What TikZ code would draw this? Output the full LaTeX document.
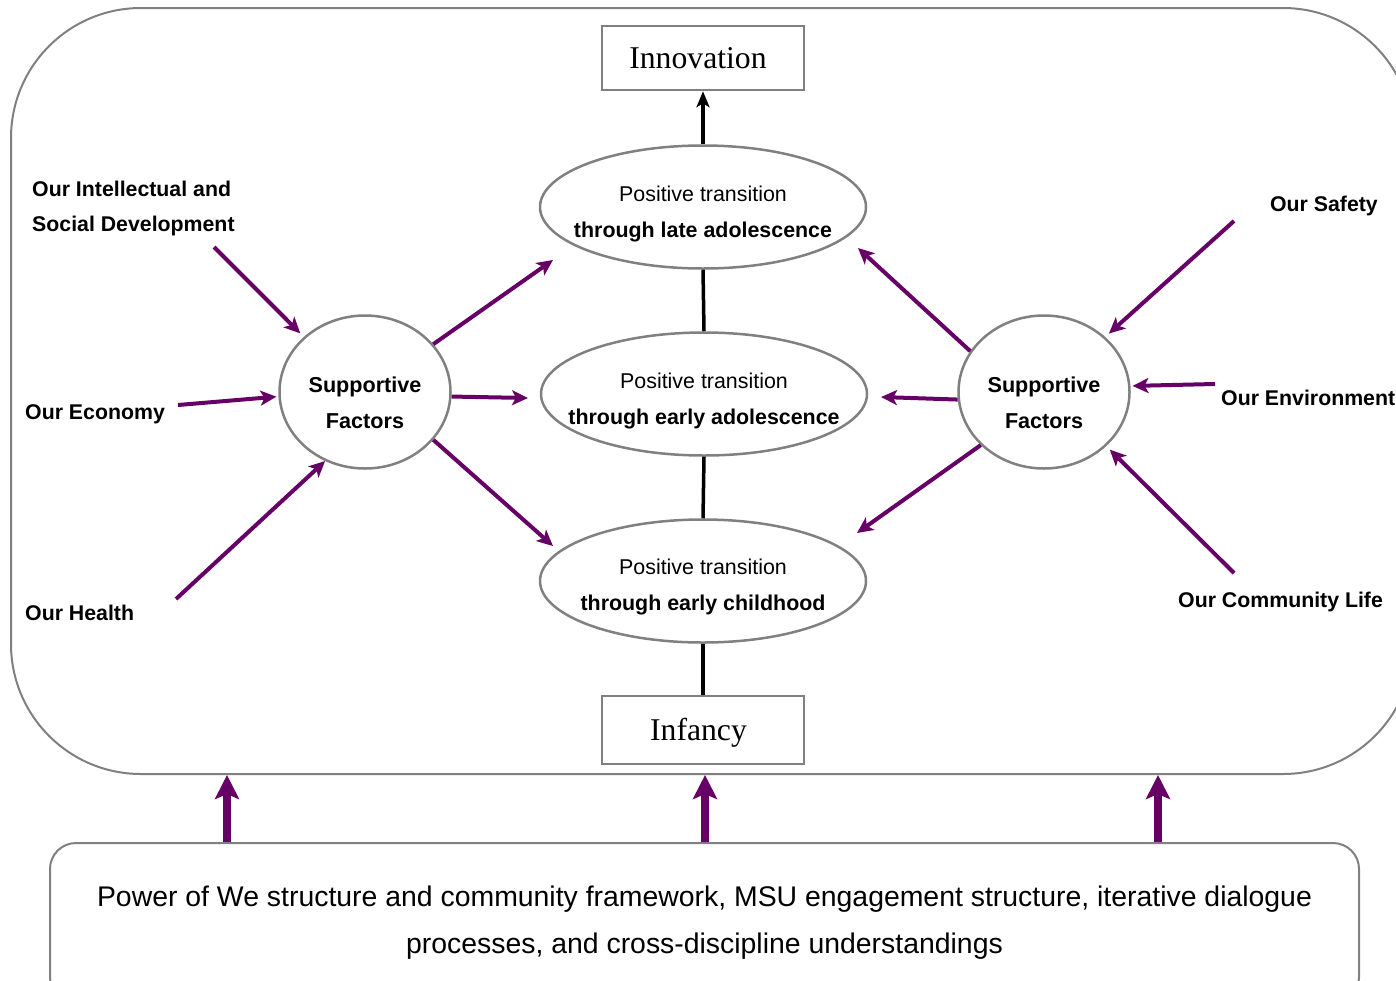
\documentclass[tikz,border=0pt]{standalone}
\usepackage{fontspec}
\setmainfont{Liberation Serif}
\setsansfont{Liberation Sans}
\usetikzlibrary{arrows.meta,shapes.geometric}
\definecolor{plum}{RGB}{102,0,102}
\definecolor{frame}{RGB}{128,128,128}
\begin{document}
\begin{tikzpicture}[x=1pt,y=-1pt,
  outerframe/.style={draw=frame, line width=2pt, rounded corners=130pt,
    minimum width=1402pt, minimum height=766pt, inner sep=0pt},
  basebox/.style={draw=frame, line width=2pt, rounded corners=26pt,
    minimum width=1309pt, minimum height=160pt, inner sep=0pt, align=center,
    font=\sffamily\fontsize{28.4}{47}\selectfont},
  endbox/.style={draw=frame, line width=2.5pt, minimum width=202pt,
    inner sep=0pt, font=\fontsize{31.7}{36}\selectfont},
  stage/.style={ellipse, draw=frame, line width=2.5pt, minimum width=326pt,
    minimum height=123pt, inner sep=0pt},
  stagetext/.style={align=center, inner sep=0pt,
    font=\sffamily\fontsize{21.4}{36}\selectfont},
  factor/.style={ellipse, draw=frame, line width=2.5pt, minimum width=171pt,
    minimum height=153pt, inner sep=0pt},
  factortext/.style={align=center, inner sep=0pt,
    font=\sffamily\bfseries\fontsize{21.6}{36}\selectfont},
  arealabel/.style={inner sep=0pt, align=left,
    font=\sffamily\bfseries\fontsize{21.3}{35}\selectfont},
  stem/.style={line width=3.5pt, black},
  flow/.style={plum, line width=4pt,
    -{Stealth[length=16pt, width=15pt, inset=4pt]}},
  lift/.style={plum, line width=7.5pt,
    -{Stealth[length=24pt, width=24pt, inset=5pt]}}
]
\useasboundingbox (0,0) rectangle (1396,980);
\clip (0,0) rectangle (1396,980);

% frames
\node[outerframe] (outer) at (712,391) {};
\node[basebox] (base) at (704.5,923)
  {Power of We structure and community framework, MSU engagement structure, iterative dialogue\\
   processes, and cross-discipline understandings};

% developmental spine
\node[endbox, minimum height=64pt] (innov) at (703,58) {Innovation\hspace*{10pt}};
\node[endbox, minimum height=68pt] (inf) at (703,730)
  {\raisebox{-3pt}[\height][\depth]{Infancy}\hspace*{9pt}};

\node[stage] (late) at (703,207) {};
\node[stage] (early) at (704,394) {};
\node[stage] (child) at (703,581) {};
\node[stagetext] (latet) at (703,214) {Positive transition\\\textbf{through late adolescence}};
\node[stagetext] (earlyt) at (704,401) {Positive transition\\\textbf{through early adolescence}};
\node[stagetext] (childt) at (703,587) {Positive transition\\\textbf{through early childhood}};

\draw[stem, -{Stealth[length=16pt, width=13pt, inset=4pt]}] (late.north) -- (innov.south);
\draw[stem] (late.south) -- (early.north);
\draw[stem] (early.south) -- (child.north);
\draw[stem] (child.south) -- (inf.north);

% supportive factors
\node[factor] (lf) at (365,392) {};
\node[factortext] (lft) at (365,403) {Supportive\\Factors};
\node[factor] (rf) at (1044,392) {};
\node[factortext] (rft) at (1044,403) {Supportive\\Factors};

% areas of community life
\node[arealabel, anchor=west] (intel) at (32,208) {Our Intellectual and\\Social Development};
\node[arealabel, anchor=west] (econ) at (25,414) {Our Economy};
\node[arealabel, anchor=west] (health) at (25,613) {Our Health};
\node[arealabel, anchor=east] (safety) at (1378,206) {Our Safety};
\node[arealabel, anchor=west] (env) at (1221,398) {Our Environment};
\node[arealabel, anchor=west] (comm) at (1178,602) {Our Community Life};

% arrow tails near the area labels
\coordinate (intelx) at (214,247);
\coordinate (econx) at (178,405);
\coordinate (healthx) at (176,599);
\coordinate (safetyx) at (1234,221);
\coordinate (envx) at (1215,384);
\coordinate (commx) at (1234,573);

\draw[flow, shorten >=5pt] (intelx) -- (lf.138);
\draw[flow, shorten >=2pt] (econx) -- (lf.183);
\draw[flow] (healthx) -- (lf.240.5);
\draw[flow, shorten >=5pt] (safetyx) -- (rf.42.7);
\draw[flow, shorten >=2pt] (envx) -- (rf.4.5);
\draw[flow, shorten >=5pt] (commx) -- (rf.-41.7);

% factor arrows toward the stages
\coordinate (lateL) at (553,260);
\coordinate (earlyL) at (528,398);
\coordinate (childL) at (553,546);
\coordinate (lateR) at (858,248);
\coordinate (earlyR) at (881,397);
\coordinate (childR) at (857,533);

\draw[flow] (lf.35) -- (lateL);
\draw[flow] (lf.-3) -- (earlyL);
\draw[flow] (lf.-35) -- (childL);
\draw[flow] (rf.151) -- (lateR);
\draw[flow] (rf.185) -- (earlyR);
\draw[flow] (rf.220.6) -- (childR);

% foundation arrows
\coordinate (c1) at (227,0);
\coordinate (c2) at (705,0);
\coordinate (c3) at (1158,0);
\draw[lift] (base.north -| c1) -- (outer.south -| c1);
\draw[lift] (base.north -| c2) -- (outer.south -| c2);
\draw[lift] (base.north -| c3) -- (outer.south -| c3);
\end{tikzpicture}
\end{document}
